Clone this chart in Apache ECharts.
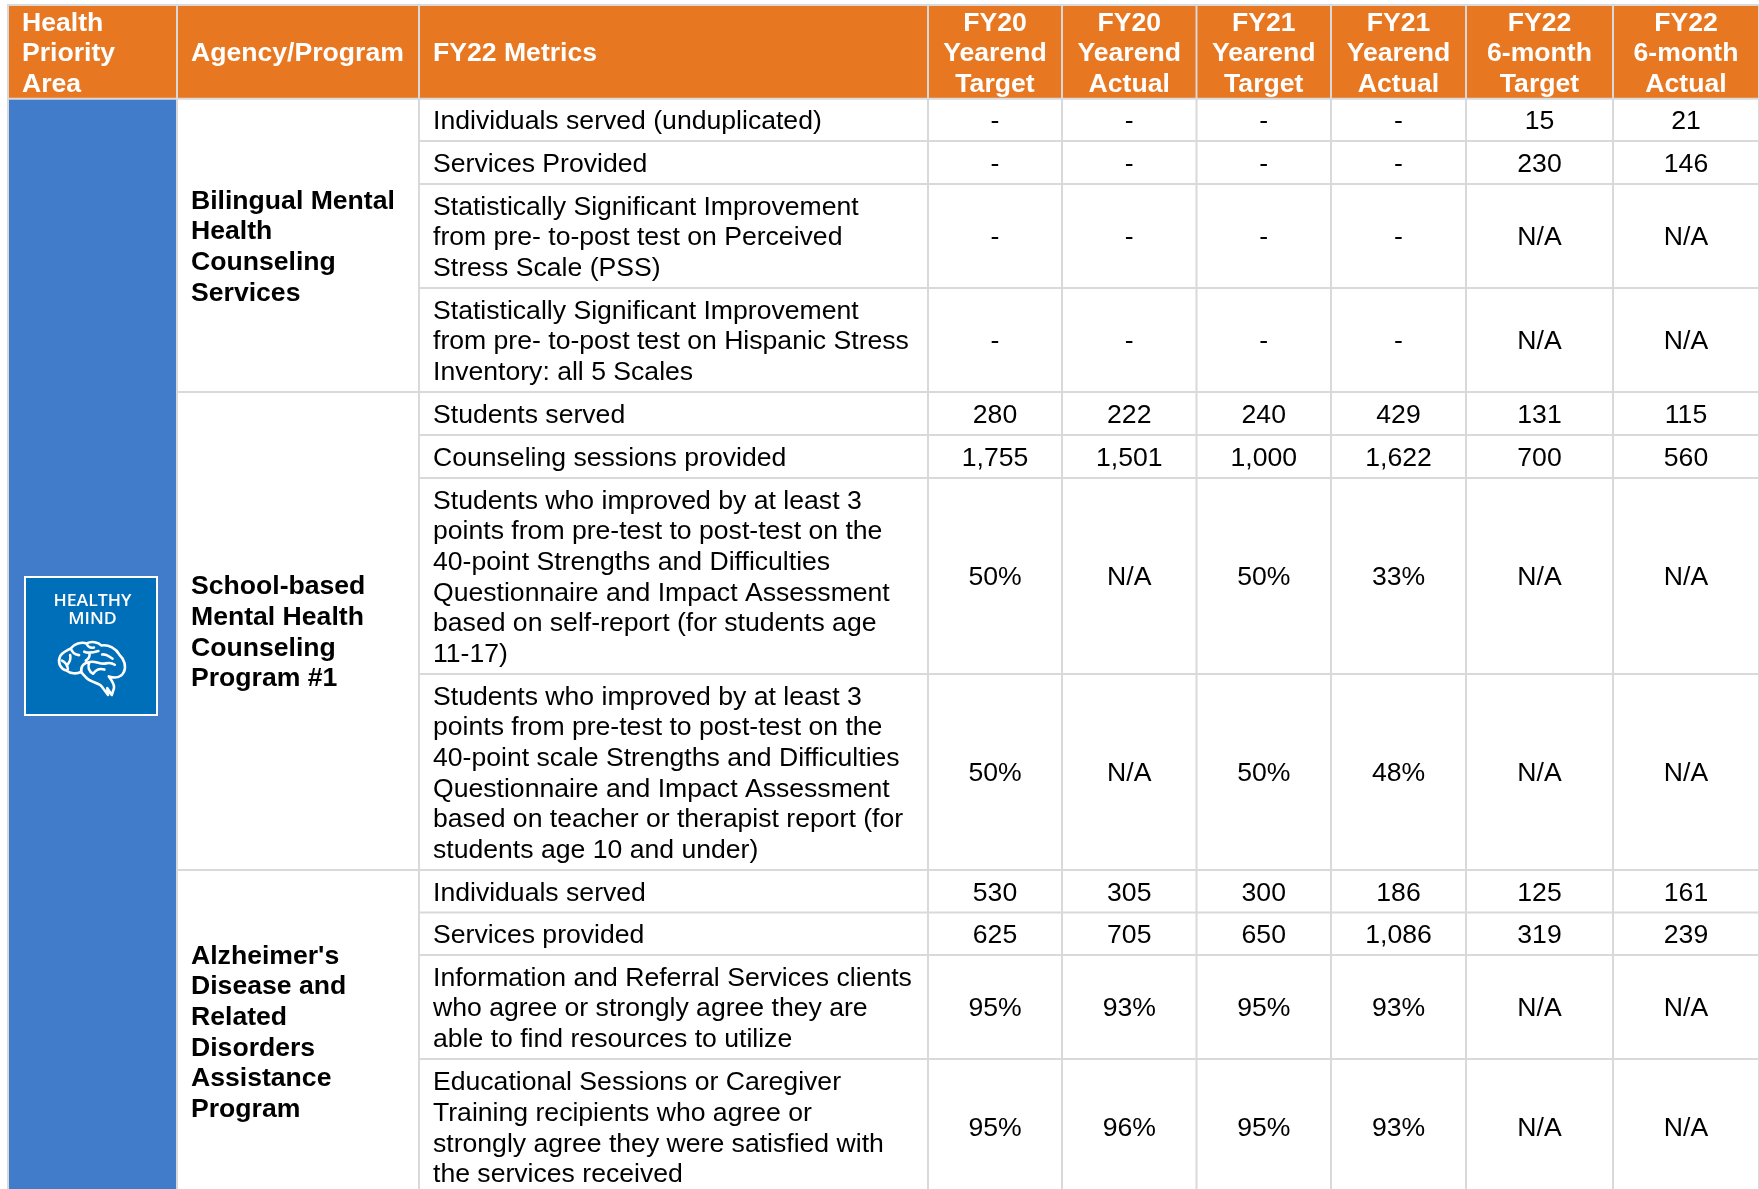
<!DOCTYPE html>
<html>
<head>
<meta charset="utf-8">
<style>
  html, body { margin: 0; padding: 0; background: #fff; }
  #chart { width: 1759px; height: 1189px; }
</style>
<script src="https://cdn.jsdelivr.net/npm/echarts@6/dist/echarts.min.js"></script>
</head>
<body>
<div id="chart"></div>
<script>
// table text
const headers = [
  "Health\nPriority\nArea", "Agency/Program", "FY22 Metrics",
  "FY20\nYearend\nTarget", "FY20\nYearend\nActual",
  "FY21\nYearend\nTarget", "FY21\nYearend\nActual",
  "FY22\n6-month\nTarget", "FY22\n6-month\nActual",
];
const programs = [
  "Bilingual Mental\nHealth\nCounseling\nServices",
  "School-based\nMental Health\nCounseling\nProgram #1",
  "Alzheimer's\nDisease and\nRelated\nDisorders\nAssistance\nProgram",
];
const metrics = [
  "Individuals served (unduplicated)",
  "Services Provided",
  "Statistically Significant Improvement\nfrom pre- to-post test on Perceived\nStress Scale (PSS)",
  "Statistically Significant Improvement\nfrom pre- to-post test on Hispanic Stress\nInventory: all 5 Scales",
  "Students served",
  "Counseling sessions provided",
  "Students who improved by at least 3\npoints from pre-test to post-test on the\n40-point Strengths and Difficulties\nQuestionnaire and Impact Assessment\nbased on self-report (for students age\n11-17)",
  "Students who improved by at least 3\npoints from pre-test to post-test on the\n40-point scale Strengths and Difficulties\nQuestionnaire and Impact Assessment\nbased on teacher or therapist report (for\nstudents age 10 and under)",
  "Individuals served",
  "Services provided",
  "Information and Referral Services clients\nwho agree or strongly agree they are\nable to find resources to utilize",
  "Educational Sessions or Caregiver\nTraining recipients who agree or\nstrongly agree they were satisfied with\nthe services received",
];
const fy20Target = ["-", "-", "-", "-", "280", "1,755", "50%", "50%", "530", "625", "95%", "95%"];
const fy20Actual = ["-", "-", "-", "-", "222", "1,501", "N/A", "N/A", "305", "705", "93%", "96%"];
const fy21Target = ["-", "-", "-", "-", "240", "1,000", "50%", "50%", "300", "650", "95%", "95%"];
const fy21Actual = ["-", "-", "-", "-", "429", "1,622", "33%", "48%", "186", "1,086", "93%", "93%"];
const fy22Target = ["15", "230", "N/A", "N/A", "131", "700", "N/A", "N/A", "125", "319", "N/A", "N/A"];
const fy22Actual = ["21", "146", "N/A", "N/A", "115", "560", "N/A", "N/A", "161", "239", "N/A", "N/A"];
const valueColumns = [fy20Target, fy20Actual, fy21Target, fy21Actual, fy22Target, fy22Actual];
const logoText = "HEALTHY\nMIND";

// grid line centres, in picture pixels
const colEdges = [8, 177, 419, 928, 1062, 1196.5, 1331, 1466, 1613, 1759];
const rowEdges = [5, 98.8, 141, 184, 288, 392, 435, 478, 674, 870, 912.5, 955, 1059, 1195];
// first and one-past-last body row of each program
const programSpans = [[0, 4], [4, 8], [8, 12]];
// last program's cell runs off the page, its text sits a bit higher
const programNudge = [0, 0, -1.5];

const ORANGE = "#e87722";
const BLUE = "#407cc9";
const LOGO_BLUE = "#006fba";
const LINE = "#d9d9d9";
const FONT = '"Liberation Sans", Arial, sans-serif';

const cells = [];
function addCell(c0, c1, r0, r1, text, opt) {
  cells.push(Object.assign({ x0: colEdges[c0], x1: colEdges[c1], y0: rowEdges[r0], y1: rowEdges[r1], text: text, dy: 0 }, opt));
}
headers.forEach((h, i) => {
  addCell(i, i + 1, 0, 1, h, { fill: ORANGE, color: "#fff", bold: true, center: i > 2 });
});
addCell(0, 1, 1, 13, "", { fill: BLUE });
programs.forEach((p, i) => {
  addCell(1, 2, programSpans[i][0] + 1, programSpans[i][1] + 1, p, { fill: "#fff", color: "#000", bold: true, dy: programNudge[i] });
});
metrics.forEach((m, r) => {
  addCell(2, 3, r + 1, r + 2, m, { fill: "#fff", color: "#000" });
  valueColumns.forEach((col, c) => {
    addCell(c + 3, c + 4, r + 1, r + 2, col[r], { fill: "#fff", color: "#000", center: true });
  });
});

function renderCell(params, api) {
  const c = cells[params.dataIndex];
  const p0 = api.coord([c.x0, c.y0]);
  const p1 = api.coord([c.x1, c.y1]);
  const children = [{
    type: "rect",
    shape: { x: p0[0] + 1, y: p0[1] + 1, width: p1[0] - p0[0] - 2, height: p1[1] - p0[1] - 2 },
    style: { fill: c.fill },
  }];
  if (c.text) {
    children.push({
      type: "text",
      style: {
        text: c.text,
        x: c.center ? (p0[0] + p1[0]) / 2 : p0[0] + 14,
        y: (p0[1] + p1[1]) / 2 + 2 + c.dy,
        align: c.center ? "center" : "left",
        verticalAlign: "middle",
        fontFamily: FONT,
        fontSize: 26.6,
        fontWeight: c.bold ? "bold" : "normal",
        lineHeight: 30.6,
        fill: c.color,
      },
    });
  }
  return { type: "group", children: children };
}

// rough outline of the brain icon
const brainPath =
  "M38 95C22 90 14 72 20 56C24 42 38 38 50 30C58 18 78 10 92 16C106 8 124 12 132 22C152 18 172 32 180 48" +
  "C194 62 200 84 192 100C186 114 170 118 152 112C160 124 168 134 166 146L160 166L148 146L150 166L132 140" +
  "C124 130 100 128 90 114C84 108 80 104 78 98C66 106 48 104 38 95Z" +
  "M26 66C34 70 40 78 42 90M42 76C48 68 50 60 48 50M50 30C52 40 60 48 72 50" +
  "M92 16C96 26 104 30 112 28M86 40C98 46 112 42 124 38M100 44C102 54 96 62 90 66" +
  "M134 48C148 46 154 56 162 60M78 98C76 84 84 72 100 70C118 66 128 78 144 74C152 72 160 72 168 78" +
  "M100 70C94 84 98 98 110 104M110 104C118 92 128 88 140 92";

const option = {
  animation: false,
  backgroundColor: "#fff",
  grid: { left: 0, right: 0, top: 0, bottom: 0 },
  xAxis: { type: "value", min: 0, max: 1759, show: false },
  yAxis: { type: "value", min: 0, max: 1189, inverse: true, show: false },
  series: [
    {
      // grid line colour shows through the gaps between cells
      type: "custom",
      silent: true,
      clip: false,
      data: [[7, 4, 1759, 1189]],
      renderItem(params, api) {
        const p0 = api.coord([api.value(0), api.value(1)]);
        const p1 = api.coord([api.value(2), api.value(3)]);
        return {
          type: "rect",
          shape: { x: p0[0], y: p0[1], width: p1[0] - p0[0], height: p1[1] - p0[1] },
          style: { fill: LINE },
        };
      },
    },
    {
      type: "custom",
      silent: true,
      clip: false,
      data: cells.map((c) => [c.x0, c.y0, c.x1, c.y1]),
      renderItem: renderCell,
    },
    {
      // Healthy Mind tile
      type: "custom",
      silent: true,
      clip: false,
      data: [[25, 577, 157, 715]],
      renderItem(params, api) {
        const p0 = api.coord([api.value(0), api.value(1)]);
        const p1 = api.coord([api.value(2), api.value(3)]);
        const cx = (p0[0] + p1[0]) / 2;
        return {
          type: "group",
          children: [
            {
              type: "rect",
              shape: { x: p0[0], y: p0[1], width: p1[0] - p0[0], height: p1[1] - p0[1] },
              style: { fill: LOGO_BLUE, stroke: "#fff", lineWidth: 2 },
            },
            {
              type: "text",
              x: cx + 1.5,
              y: p0[1] + 33.5,
              scaleX: 1.14,
              style: {
                text: logoText,
                x: 0,
                y: 0,
                align: "center",
                verticalAlign: "middle",
                fontFamily: '"Open Sans", sans-serif',
                fontSize: 15.5,
                fontWeight: 600,
                lineHeight: 18.5,
                fill: "#fff",
              },
            },
            {
              type: "path",
              shape: { pathData: brainPath, layout: "cover", x: cx - 32, y: p0[1] + 65, width: 66, height: 53 },
              style: { fill: "none", stroke: "#fff", lineWidth: 2.6, lineJoin: "round", lineCap: "round" },
            },
          ],
        };
      },
    },
  ],
};

const chart = echarts.init(document.getElementById("chart"));
chart.setOption(option);
</script>
</body>
</html>
